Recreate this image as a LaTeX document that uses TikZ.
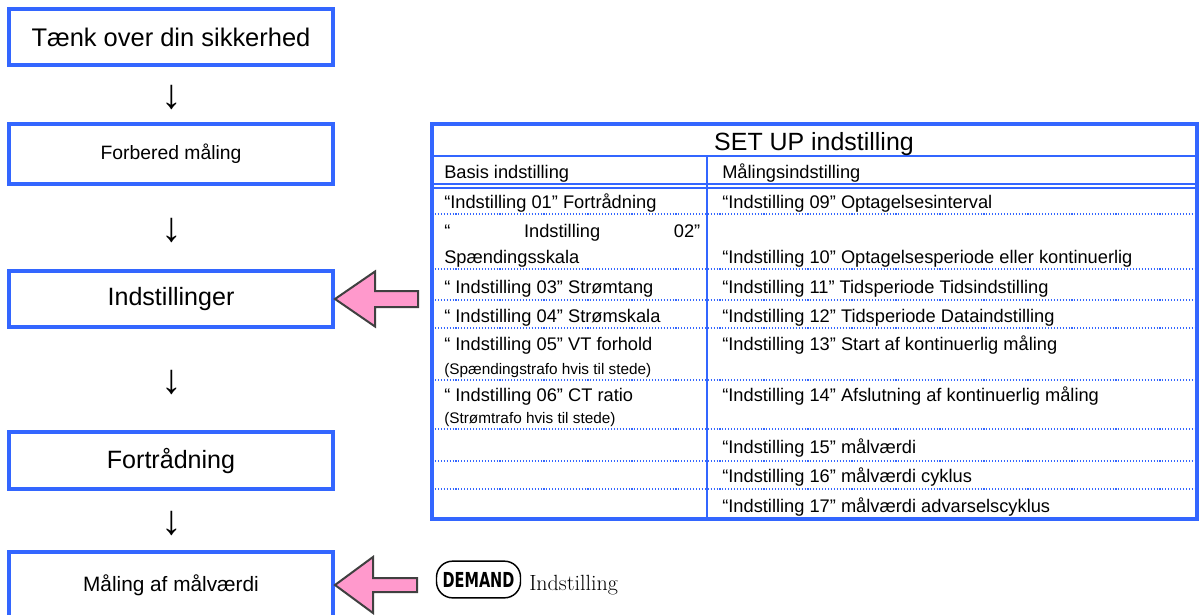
\documentclass[tikz,border=0pt]{standalone}
\usepackage{fontspec}
\usepackage{graphicx}
\setmainfont{Liberation Sans}
\newfontfamily\serifnote{Latin Modern Roman}
\newfontfamily\badgefont{DejaVu Sans Condensed}
\usetikzlibrary{arrows.meta,positioning,calc}
\definecolor{frame}{HTML}{3366FF}
\definecolor{pinkfill}{HTML}{FF99CC}
\definecolor{edge}{HTML}{404040}

\begin{document}
\begin{tikzpicture}[x=0.75pt,y=-0.75pt,
  flowbox/.style={draw=frame, line width=3pt, minimum width=243pt, inner sep=0pt, align=center},
  cell/.style={anchor=base west, inner sep=0pt, font=\fontsize{13.7}{13.7}\selectfont},
  note/.style={anchor=base west, inner sep=0pt, font=\fontsize{11.5}{11.5}\selectfont},
  rowline/.style={frame, line width=0.8pt, dash pattern=on 0.8pt off 1.4pt},
  blockarrow/.style={fill=pinkfill, draw=edge, line width=1.5pt, line join=miter},
  badge/.style={draw=black, line width=1.1pt, rounded corners=12pt, minimum width=63pt, minimum height=27.5pt, inner sep=0pt}]
\useasboundingbox (0,0) rectangle (1202,614);
\fill[white] (0,0) rectangle (1202,614);
\clip (0,0) rectangle (1202,614);
\foreach \n/\cy/\h/\s/\t in {
  1/37/42/19.1/{Tænk over din sikkerhed},
  2/154/45/14.5/{Forbered måling},
  3/299/42/18.8/{Indstillinger},
  4/460.5/42.75/18.8/{Fortrådning},
  5/585/49.5/15.6/{Måling af målværdi}}{
  \node[flowbox, minimum height=\h pt, font=\fontsize{\s}{\s}\selectfont] (b\n) at (171,\cy) {\t};
}
\foreach \i [evaluate=\i as \j using int(\i+1)] in {1,...,4}
  \node[font=\fontsize{31}{31}\selectfont, inner sep=0pt] (d\i) at ($(b\i.south)!0.5!(b\j.north)+(1,3)$) {↓};
\draw[blockarrow] (b3.east) -- ++(40,-27.5) -- ++(0,19.5) -- ++(43,0) -- ++(0,16) -- ++(-43,0) -- ++(0,19.5) -- cycle;
\draw[blockarrow] (b5.east) -- ++(38,-28) -- ++(0,21) -- ++(44,0) -- ++(0,14) -- ++(-44,0) -- ++(0,21) -- cycle;
\draw[frame, line width=3pt] (432,124) rectangle (1197,519);
\draw[frame, line width=1.2pt] (432,156) -- (1197,156);
\draw[frame, line width=1pt] (432,184) -- (1197,184) (432,188) -- (1197,188);
\draw[frame, line width=1.3pt] (707,156) -- (707,519);
\foreach \y in {214,269,300,328,380,429,461,489} \draw[rowline] (432,\y) -- (1195,\y);
\node[anchor=base, inner sep=0pt, font=\fontsize{18.7}{18.7}\selectfont] (ttl) at (814,150) {SET UP indstilling};
\node[cell] (hl) at (444,178) {Basis indstilling};
\node[cell] (hr) at (722,178) {Målingsindstilling};
\foreach \n/\y/\t in {
  1/208/{“Indstilling 01” Fortrådning},
  2/263/{Spændingsskala},
  3/293/{“ Indstilling 03” Strømtang},
  4/322/{“ Indstilling 04” Strømskala},
  5/350/{“ Indstilling 05” VT forhold},
  6/401/{“ Indstilling 06” CT ratio}}{
  \node[cell] (l\n) at (444,\y) {\t};
}
\node[cell] (l2a) at (444,237) {\hbox to 192pt{“\hfill Indstilling\hfill 02”}};
\node[note] (l5b) at (444,374) {(Spændingstrafo hvis til stede)};
\node[note] (l6b) at (444,423) {(Strømtrafo hvis til stede)};
\foreach \n/\y/\t in {
  9/208/{“Indstilling 09” Optagelsesinterval},
  10/263/{“Indstilling 10” Optagelsesperiode eller kontinuerlig},
  11/293/{“Indstilling 11” Tidsperiode Tidsindstilling},
  12/322/{“Indstilling 12” Tidsperiode Dataindstilling},
  13/350/{“Indstilling 13” Start af kontinuerlig måling},
  14/401/{“Indstilling 14” Afslutning af kontinuerlig måling},
  15/453/{“Indstilling 15” målværdi},
  16/482/{“Indstilling 16” målværdi cyklus},
  17/512/{“Indstilling 17” målværdi advarselscyklus}}{
  \node[cell] (r\n) at (722,\y) {\t};
}
\node[badge] (dm) at (478.5,579.5) {\badgefont\bfseries\fontsize{15.5}{15.5}\selectfont\scalebox{0.78}[1]{DEMAND}};
\node[anchor=base west, inner sep=0pt, font=\serifnote\fontsize{16.5}{16.5}\selectfont] (dmt) at (529,590) {Indstilling};
\end{tikzpicture}
\end{document}
